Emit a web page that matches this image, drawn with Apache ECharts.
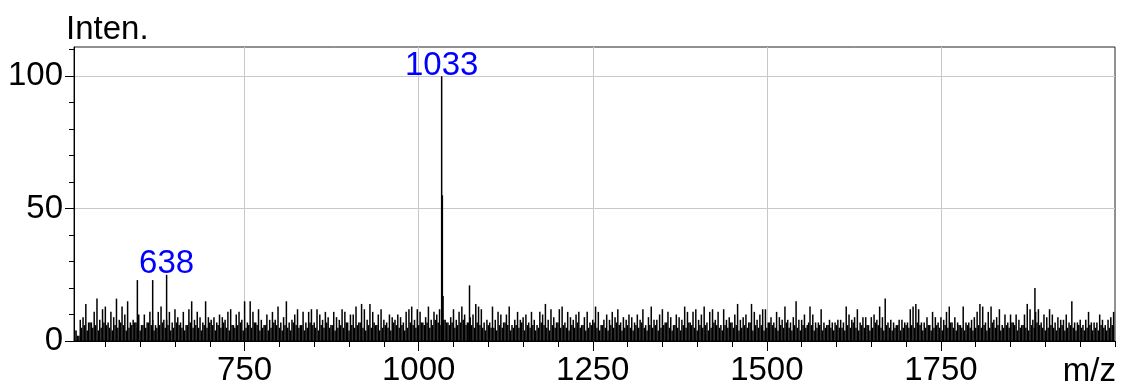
<!DOCTYPE html>
<html>
<head>
<meta charset="utf-8">
<script src="https://cdn.jsdelivr.net/npm/echarts@6/dist/echarts.min.js"></script>
<style>
  html, body { margin: 0; padding: 0; background: #fff; }
  #chart { width: 1122px; height: 387px; }
</style>
</head>
<body>
<div id="chart"></div>
<script>
// Mass spectrum: noise sticks sampled every 4 m/z, a denser low floor between them,
// and the individual peaks that stand out of the noise.
const noiseStart = 506;
const noiseStep = 4;
const noiseHeights = [
  4, 2, 8, 9, 14, 7, 7, 11, 16, 8, 12, 13, 7, 11, 9, 16, 8, 13, 10, 15, 7, 8, 7, 10, 6,
  10, 7, 11, 8, 6, 11, 13, 8, 8, 11, 7, 12, 9, 7, 11, 6, 12, 15, 8, 11, 9, 7, 15, 9, 8,
  9, 7, 10, 9, 8, 11, 12, 6, 10, 11, 8, 15, 7, 15, 11, 7, 12, 8, 6, 10, 8, 11, 8, 13, 7,
  9, 15, 7, 8, 10, 12, 6, 11, 7, 11, 12, 7, 12, 10, 8, 11, 9, 6, 11, 9, 8, 12, 11, 7, 10,
  10, 13, 7, 14, 12, 8, 14, 11, 6, 10, 12, 8, 7, 10, 9, 8, 10, 9, 7, 11, 12, 13, 8, 12, 11,
  7, 9, 13, 8, 11, 10, 12, 8, 8, 7, 9, 12, 8, 11, 13, 10, 7, 9, 10, 14, 13, 12, 7, 8, 7,
  13, 8, 11, 10, 7, 10, 13, 6, 8, 11, 8, 9, 10, 7, 11, 8, 6, 11, 10, 14, 8, 12, 9, 7, 12,
  13, 7, 11, 9, 8, 10, 11, 6, 9, 11, 7, 8, 13, 11, 6, 8, 10, 8, 11, 9, 12, 7, 9, 8, 10,
  9, 7, 10, 8, 12, 6, 9, 13, 8, 8, 10, 12, 7, 11, 9, 6, 10, 9, 8, 13, 11, 7, 11, 12, 8,
  10, 13, 7, 11, 12, 8, 11, 6, 12, 8, 9, 7, 10, 14, 8, 9, 10, 7, 14, 11, 8, 10, 12, 12, 7,
  9, 7, 11, 9, 8, 13, 8, 7, 9, 15, 8, 8, 10, 6, 13, 10, 7, 7, 12, 7, 6, 8, 7, 7, 8,
  8, 7, 13, 10, 8, 9, 12, 7, 9, 9, 6, 9, 10, 8, 13, 9, 16, 7, 8, 7, 6, 8, 8, 7, 7,
  12, 13, 14, 12, 7, 7, 9, 6, 11, 9, 7, 9, 8, 11, 13, 7, 9, 7, 6, 13, 7, 7, 8, 9, 11,
  14, 13, 7, 11, 13, 8, 9, 12, 6, 10, 7, 10, 7, 10, 8, 6, 10, 14, 12, 8, 11, 12, 7, 10, 9,
  12, 10, 7, 9, 8, 8, 10, 7, 15, 7, 7, 8, 6, 8, 11, 7, 7, 7, 10, 8, 6, 8, 9, 11
];

const floorStart = 508;
const floorStep = 4;
const floorHeights = [
  4, 2, 5, 6, 4, 7, 5, 6, 4, 5, 7, 6, 5, 4, 6, 5, 7, 6, 4, 5, 6, 7, 5, 4, 6,
  5, 7, 6, 4, 5, 6, 7, 5, 6, 4, 5, 7, 6, 5, 4, 6, 7, 5, 6, 5, 4, 6, 5, 7, 6,
  4, 6, 5, 7, 5, 4, 6, 5, 6, 7, 4, 5, 6, 5, 7, 6, 4, 5, 6, 4, 5, 7, 6, 5, 4,
  6, 5, 4, 7, 6, 5, 6, 4, 5, 7, 6, 5, 4, 6, 5, 7, 5, 6, 4, 5, 6, 5, 7, 4, 6,
  5, 6, 7, 5, 4, 6, 5, 7, 6, 4, 5, 6, 5, 4, 7, 6, 5, 6, 4, 5, 7, 6, 5, 6, 7,
  6, 7, 5, 6, 8, 7, 6, 8, 7, 6, 7, 5, 6, 7, 8, 6, 7, 6, 5, 7, 6, 5, 4, 6, 5,
  5, 4, 6, 5, 7, 6, 4, 5, 6, 5, 7, 4, 6, 5, 6, 4, 5, 7, 6, 5, 4, 6, 5, 7, 5,
  6, 5, 4, 6, 5, 7, 5, 6, 4, 5, 6, 7, 5, 4, 6, 5, 4, 6, 5, 7, 6, 4, 5, 6, 5,
  4, 6, 5, 7, 5, 4, 6, 5, 6, 4, 5, 6, 7, 5, 4, 6, 5, 4, 6, 5, 7, 6, 5, 4, 6,
  5, 6, 4, 5, 7, 6, 5, 4, 6, 5, 7, 5, 6, 4, 5, 6, 5, 7, 4, 6, 5, 6, 4, 5, 7,
  6, 5, 4, 6, 5, 7, 5, 4, 6, 5, 4, 6, 5, 7, 6, 4, 5, 6, 4, 5, 6, 5, 4, 6, 5,
  5, 4, 6, 5, 7, 5, 4, 6, 5, 6, 4, 5, 7, 6, 5, 4, 6, 5, 4, 5, 6, 4, 5, 6, 5,
  6, 5, 7, 6, 4, 5, 6, 4, 5, 6, 5, 4, 6, 5, 7, 5, 4, 6, 5, 4, 6, 5, 4, 5, 6,
  5, 6, 4, 5, 7, 5, 6, 4, 5, 6, 5, 7, 6, 4, 5, 6, 5, 4, 6, 5, 7, 6, 5, 4, 5,
  6, 5, 4, 5, 6, 4, 5, 6, 5, 4, 6, 5, 4, 5, 6, 4, 5, 4, 6, 5, 4, 5, 6
];

const peakMz = [596, 618, 638, 1033, 1034, 1035, 1073, 1885];
const peakIntensity = [23, 23, 25, 100, 55, 17, 21, 20];
const labelledPeaks = [638, 1033];

const xMajorTicks = [750, 1000, 1250, 1500, 1750];
const xMinorTicks = [550, 600, 650, 700, 800, 850, 900, 950, 1050, 1100, 1150, 1200,
  1300, 1350, 1400, 1450, 1550, 1600, 1650, 1700, 1800, 1850, 1900, 1950, 2000];
const yMajorTicks = [0, 50, 100];
const yMinorTicks = [10, 20, 30, 40, 60, 70, 80, 90, 110];

const FONT = "'Liberation Sans', Arial, sans-serif";

const sticks = [];
noiseHeights.forEach((h, i) => sticks.push([noiseStart + i * noiseStep, h]));
floorHeights.forEach((h, i) => sticks.push([floorStart + i * floorStep, h]));
peakMz.forEach((mz, i) => {
  sticks.push({
    value: [mz, peakIntensity[i]],
    label: { show: labelledPeaks.includes(mz) }
  });
});

const chart = echarts.init(document.getElementById('chart'), null, { renderer: 'canvas' });

const xRange = { min: 505, max: 2000 };
const yRange = { min: 0, max: 111 };
const plainNumber = (v) => String(v);

chart.setOption({
  animation: false,
  backgroundColor: '#fff',
  textStyle: { fontFamily: FONT },
  title: [
    { text: 'Inten.', left: 66, top: 13, padding: 0,
      textStyle: { fontFamily: FONT, fontSize: 33, fontWeight: 'normal', color: '#000' } },
    { text: 'm/z', right: 6, top: 355, padding: 0,
      textStyle: { fontFamily: FONT, fontSize: 33, fontWeight: 'normal', color: '#000' } }
  ],
  grid: {
    left: 74, right: 7, top: 47, bottom: 46,
    show: true, borderColor: '#222', borderWidth: 1, backgroundColor: 'transparent'
  },
  xAxis: [
    {
      type: 'value', ...xRange,
      axisLine: { show: true, lineStyle: { color: '#000', width: 1 } },
      axisTick: { show: true, customValues: xMajorTicks, length: 10, lineStyle: { color: '#000' } },
      axisLabel: { show: true, customValues: xMajorTicks, margin: 13, fontSize: 33,
        color: '#000', fontFamily: FONT, formatter: plainNumber },
      splitLine: { show: true, lineStyle: { color: '#c8c8c8', width: 1 } }
    },
    {
      type: 'value', ...xRange, position: 'bottom',
      axisLine: { show: false },
      axisTick: { show: true, customValues: xMinorTicks, length: 6, lineStyle: { color: '#000' } },
      axisLabel: { show: false },
      splitLine: { show: false }
    }
  ],
  yAxis: [
    {
      type: 'value', ...yRange,
      axisLine: { show: true, lineStyle: { color: '#000', width: 1 } },
      axisTick: { show: true, customValues: yMajorTicks, length: 9, lineStyle: { color: '#000' } },
      axisLabel: { show: true, customValues: yMajorTicks, margin: 11, fontSize: 33,
        color: '#000', fontFamily: FONT, formatter: plainNumber },
      splitLine: { show: true, lineStyle: { color: '#c8c8c8', width: 1 } }
    },
    {
      type: 'value', ...yRange, position: 'left',
      axisLine: { show: false },
      axisTick: { show: true, customValues: yMinorTicks, length: 5, lineStyle: { color: '#000' } },
      axisLabel: { show: false },
      splitLine: { show: false }
    }
  ],
  series: [
    {
      type: 'bar',
      xAxisIndex: 0,
      yAxisIndex: 0,
      barWidth: 1.5,
      data: sticks,
      itemStyle: { color: '#000' },
      label: {
        show: false,
        position: 'top',
        distance: -6,
        color: '#0000ff',
        fontSize: 33,
        fontFamily: FONT,
        formatter: (p) => String(p.value[0])
      },
      emphasis: { disabled: true }
    }
  ]
});
</script>
</body>
</html>
